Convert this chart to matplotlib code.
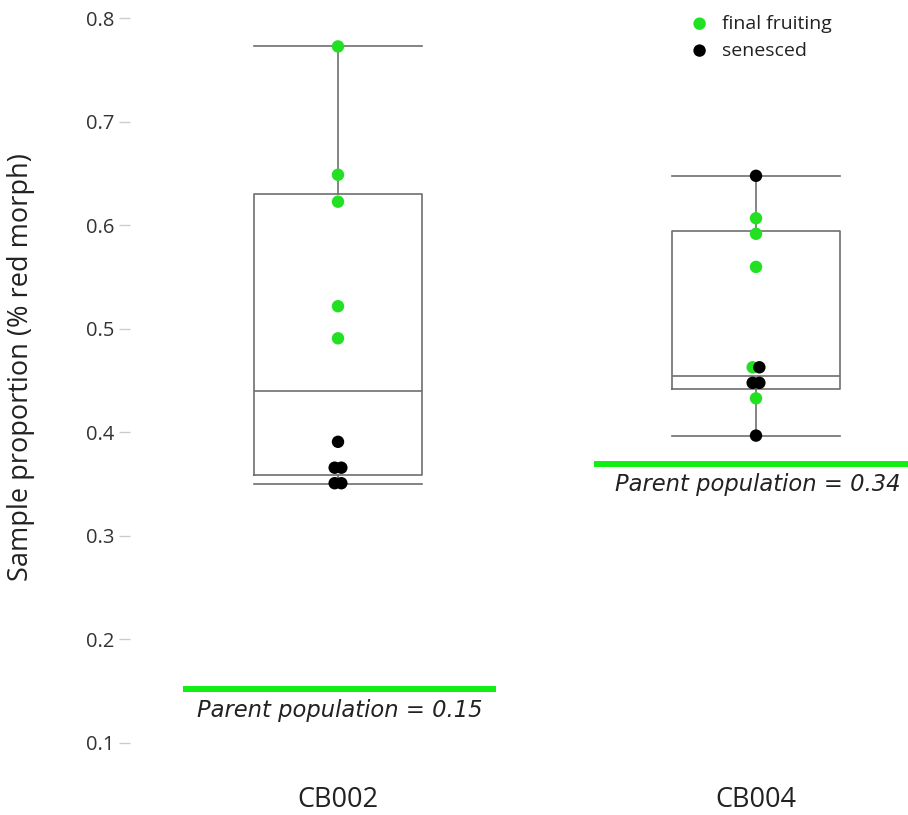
import numpy as np
import matplotlib as mpl
mpl.use("Agg")
import matplotlib.pyplot as plt

mpl.rcParams.update({
    "font.family": ["Open Sans", "DejaVu Sans"],
    "font.size": 13,
})

# ── data ──
groups = ["CB002", "CB004"]

cb002_fruit = [0.773, 0.649, 0.623, 0.522, 0.491]
cb002_senes = [0.391, 0.366, 0.366, 0.351, 0.351]
cb004_fruit = [0.607, 0.592, 0.560, 0.463, 0.433]
cb004_senes = [0.648, 0.463, 0.448, 0.448, 0.397]

# box stats: lower whisker, q1, median, q3, upper whisker
whislo = [0.350, 0.397]
q1 = [0.359, 0.442]
med = [0.440, 0.455]
q3 = [0.630, 0.595]
whishi = [0.773, 0.648]

parent_line = [0.152, 0.370]
parent_label = ["Parent population = 0.15", "Parent population = 0.34"]

GREEN = "#22e022"
LINE_GREEN = "#11ee11"
GRAY = "#6e6e6e"

W, H = 908, 815
fig = plt.figure(figsize=(W / 100, H / 100), dpi=100)
# axes in pixel bounds: left 130, right 908, top 5, bottom 765
ax = fig.add_axes([130 / W, 1 - 765 / H, (908 - 130) / W, (765 - 5) / H])

stats = []
for i in range(2):
    stats.append(dict(whislo=whislo[i], q1=q1[i], med=med[i], q3=q3[i],
                      whishi=whishi[i], fliers=[]))
lp = dict(color=GRAY, linewidth=1.2)
ax.bxp(stats, positions=[0, 1], widths=0.404, showfliers=False,
       boxprops=lp, whiskerprops=lp, capprops=lp, medianprops=lp,
       capwidths=0.404, zorder=1)


def swarm_x(vals, center, dx=0.016):
    # spread points with equal values side by side
    vals = np.round(np.asarray(vals), 3)
    xs = np.zeros(len(vals))
    for v in np.unique(vals):
        idx = np.where(vals == v)[0]
        n = len(idx)
        xs[idx] = center + (np.arange(n) - (n - 1) / 2) * dx
    return xs


for i, (fr, se) in enumerate([(cb002_fruit, cb002_senes), (cb004_fruit, cb004_senes)]):
    allv = fr + se
    xs = swarm_x(allv, i)
    cols = [GREEN] * len(fr) + ["black"] * len(se)
    ax.scatter(xs, allv, s=80, c=cols, edgecolors="none", zorder=3)

# parent population lines
px = [(-0.372, 0.377), (0.612, 1.37)]
for i in range(2):
    ax.plot(px[i], [parent_line[i]] * 2, color=LINE_GREEN, linewidth=4.3,
            solid_capstyle="butt", zorder=2, clip_on=False)
    ax.text(i + 0.005, parent_line[i] - 0.0095, parent_label[i],
            ha="center", va="top", fontsize=16.3, style="italic",
            family="DejaVu Sans", color="#222222")

# legend
ax.scatter([0.865], [0.795], s=80, color=GREEN, edgecolors="none", clip_on=False)
ax.scatter([0.865], [0.769], s=80, color="black", edgecolors="none", clip_on=False)
ax.text(0.918, 0.795, "final fruiting", va="center", fontsize=14, color="#222222")
ax.text(0.918, 0.769, "senesced", va="center", fontsize=14, color="#222222")

ax.set_xlim(-0.4976, 1.3636)
ax.set_ylim(0.07874, 0.81304)
ax.set_xticks([0, 1])
ax.set_xticklabels(groups, fontsize=19.5, color="#222222")
ax.tick_params(axis="x", length=0, pad=15)
ax.set_yticks(np.arange(0.1, 0.81, 0.1))
ax.set_yticklabels([f"{v:.1f}" for v in np.arange(0.1, 0.81, 0.1)], color="#333333",
                   fontsize=14.5)
ax.tick_params(axis="y", length=8, width=1, color="#cccccc", pad=3)
ax.set_ylabel("Sample proportion (% red morph)", fontsize=19.5, color="#222222")
ax.yaxis.set_label_coords(-95 / 778, 1 - (367 - 5) / 760)
for s in ax.spines.values():
    s.set_visible(False)

fig.savefig("out.png", dpi=100)
